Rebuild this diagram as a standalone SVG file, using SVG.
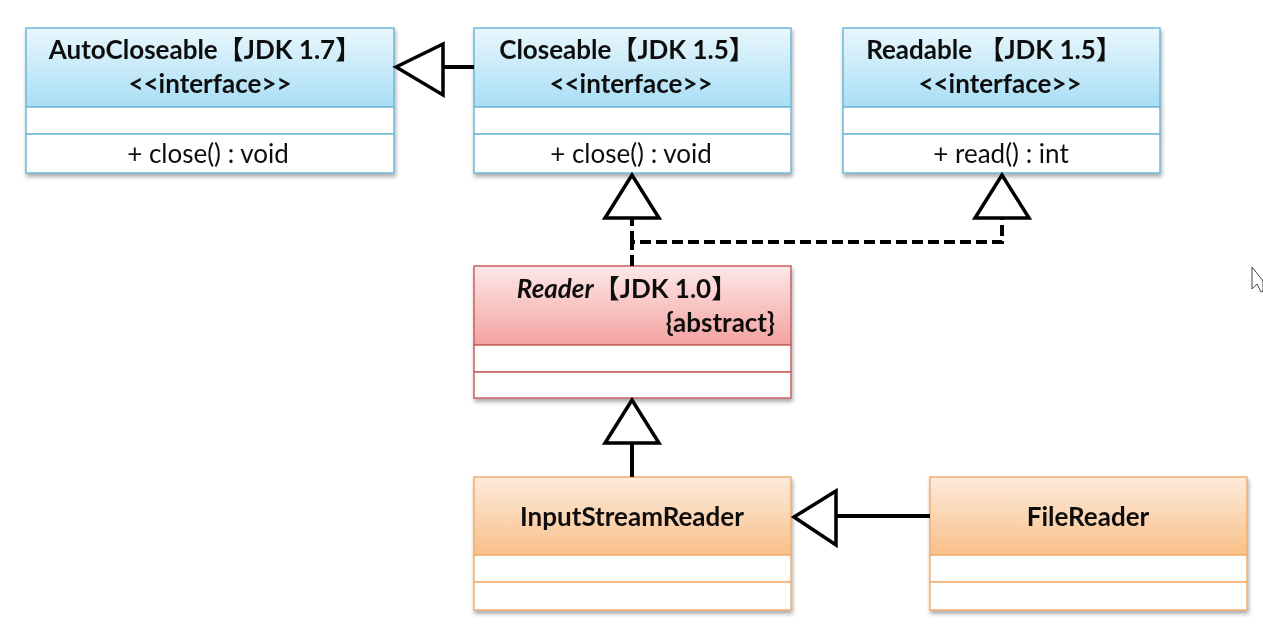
<svg xmlns="http://www.w3.org/2000/svg" width="1263" height="628" viewBox="0 0 1263 628">
  <style>
    .title { font-family: Lato, "Noto Sans CJK SC", sans-serif; font-weight: bold; font-size: 26px; fill: #111; }
    .member { font-family: Lato, "Noto Sans CJK SC", sans-serif; font-size: 26px; fill: #111; }
    .row { fill: #ffffff; }
    .blue { stroke: #6fb8d6; stroke-width: 1.5; }
    .red { stroke: #c9625f; stroke-width: 1.5; }
    .orange { stroke: #f2ad6e; stroke-width: 1.5; }
    .edge { fill: none; stroke: #000; stroke-width: 4; }
    .dash { stroke-dasharray: 11 5; }
    .head { fill: #fff; stroke: #000; stroke-width: 3.5; stroke-linejoin: miter; }
  </style>
  <defs>
    <linearGradient id="gBlue" x1="0" y1="0" x2="0" y2="1">
      <stop offset="0" stop-color="#e9f7fd"/>
      <stop offset="1" stop-color="#a8def5"/>
    </linearGradient>
    <linearGradient id="gRed" x1="0" y1="0" x2="0" y2="1">
      <stop offset="0" stop-color="#fde8e8"/>
      <stop offset="1" stop-color="#f3a2a0"/>
    </linearGradient>
    <linearGradient id="gOrange" x1="0" y1="0" x2="0" y2="1">
      <stop offset="0" stop-color="#fdebdc"/>
      <stop offset="1" stop-color="#f9c089"/>
    </linearGradient>
    <filter id="shadow" x="-5%" y="-5%" width="110%" height="115%">
      <feGaussianBlur in="SourceAlpha" stdDeviation="2"/>
      <feOffset dx="1" dy="3" result="b"/>
      <feComponentTransfer><feFuncA type="linear" slope="0.35"/></feComponentTransfer>
      <feMerge><feMergeNode/><feMergeNode in="SourceGraphic"/></feMerge>
    </filter>
  </defs>

  <rect width="1263" height="628" fill="#ffffff"/>

  <!-- AutoCloseable interface -->
  <g id="autocloseable" filter="url(#shadow)">
    <rect x="26" y="28" width="368" height="79" fill="url(#gBlue)" class="blue"/>
    <rect x="26" y="107" width="368" height="27" class="row blue"/>
    <rect x="26" y="134" width="368" height="39" class="row blue"/>
    <text x="205" y="59" text-anchor="middle" class="title">AutoCloseable【JDK 1.7】</text>
    <text x="210" y="93" text-anchor="middle" class="title">&lt;&lt;interface&gt;&gt;</text>
    <text x="208" y="163" text-anchor="middle" class="member">+ close() : void</text>
  </g>

  <!-- Closeable interface -->
  <g id="closeable" filter="url(#shadow)">
    <rect x="474" y="28" width="317" height="79" fill="url(#gBlue)" class="blue"/>
    <rect x="474" y="107" width="317" height="27" class="row blue"/>
    <rect x="474" y="134" width="317" height="39" class="row blue"/>
    <text x="627" y="59" text-anchor="middle" class="title">Closeable【JDK 1.5】</text>
    <text x="631" y="93" text-anchor="middle" class="title">&lt;&lt;interface&gt;&gt;</text>
    <text x="631" y="163" text-anchor="middle" class="member">+ close() : void</text>
  </g>

  <!-- Readable interface -->
  <g id="readable" filter="url(#shadow)">
    <rect x="843" y="28" width="317" height="79" fill="url(#gBlue)" class="blue"/>
    <rect x="843" y="107" width="317" height="27" class="row blue"/>
    <rect x="843" y="134" width="317" height="39" class="row blue"/>
    <text x="994" y="59" text-anchor="middle" class="title">Readable 【JDK 1.5】</text>
    <text x="1000" y="93" text-anchor="middle" class="title">&lt;&lt;interface&gt;&gt;</text>
    <text x="1001" y="163" text-anchor="middle" class="member">+ read() : int</text>
  </g>

  <!-- Reader abstract class -->
  <g id="reader" filter="url(#shadow)">
    <rect x="474" y="266" width="317" height="79" fill="url(#gRed)" class="red"/>
    <rect x="474" y="345" width="317" height="27" class="row red"/>
    <rect x="474" y="372" width="317" height="26" class="row red"/>
    <text x="627" y="298" text-anchor="middle" class="title"><tspan font-style="italic">Reader</tspan>【JDK 1.0】</text>
    <text x="775" y="332" text-anchor="end" class="title">{abstract}</text>
  </g>

  <!-- InputStreamReader class -->
  <g id="inputstreamreader" filter="url(#shadow)">
    <rect x="474" y="477" width="317" height="78" fill="url(#gOrange)" class="orange"/>
    <rect x="474" y="555" width="317" height="27" class="row orange"/>
    <rect x="474" y="582" width="317" height="28" class="row orange"/>
    <text x="632" y="526" text-anchor="middle" class="title">InputStreamReader</text>
  </g>

  <!-- FileReader class -->
  <g id="filereader" filter="url(#shadow)">
    <rect x="930" y="477" width="317" height="78" fill="url(#gOrange)" class="orange"/>
    <rect x="930" y="555" width="317" height="27" class="row orange"/>
    <rect x="930" y="582" width="317" height="28" class="row orange"/>
    <text x="1088" y="526" text-anchor="middle" class="title">FileReader</text>
  </g>

  <!-- Connectors: generalization and realization -->
  <g id="connectors">
    <!-- Closeable extends AutoCloseable -->
    <path class="edge" d="M474 67 H443"/>
    <polygon class="head" points="396,67 443,44 443,95"/>
    <!-- Reader implements Closeable and Readable -->
    <path class="edge dash" d="M632 266 V242 H1002 V218"/>
    <path class="edge dash" d="M632 242 V218"/>
    <polygon class="head" points="632,175 605,218 659,218"/>
    <polygon class="head" points="1002,175 975,218 1029,218"/>
    <!-- InputStreamReader extends Reader -->
    <path class="edge" d="M632 477 V443"/>
    <polygon class="head" points="632,400 605,443 659,443"/>
    <!-- FileReader extends InputStreamReader -->
    <path class="edge" d="M930 516 H836"/>
    <polygon class="head" points="794,517 836,491 836,545"/>
  </g>

  <!-- mouse pointer -->
  <path d="M1252 267 V289 L1257 284 L1261 292 L1263 291 V281 Z" fill="#fff" stroke="#444" stroke-width="1"/>
</svg>
